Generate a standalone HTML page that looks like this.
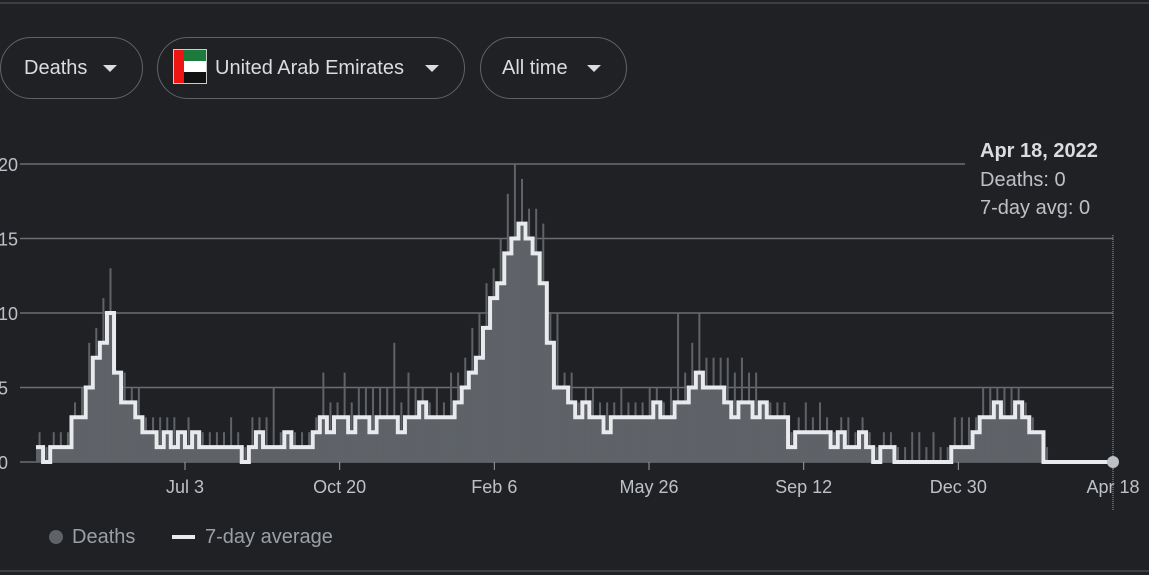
<!DOCTYPE html>
<html><head><meta charset="utf-8"><style>
body{margin:0;width:1149px;height:575px;background:#202124;overflow:hidden;font-family:"Liberation Sans",Arial,sans-serif;position:relative}
.pill{position:absolute;top:37px;height:62px;border:1px solid #5f6368;border-radius:31px;box-sizing:border-box;color:#dadce0;font-size:20px;line-height:60px}
.pill .arr{position:absolute;top:27px;width:0;height:0;border-left:7px solid transparent;border-right:7px solid transparent;border-top:7px solid #dadce0}
</style></head><body>
<div style="position:absolute;left:0;top:2px;width:1149px;height:2px;background:#3c4043"></div>
<div class="pill" style="left:0;width:143px"><span style="position:absolute;left:23px">Deaths</span><span class="arr" style="left:102px"></span></div>
<div class="pill" style="left:157px;width:308px">
<div style="position:absolute;left:15px;top:11px;width:34px;height:35px;background:#fff;border:1px solid #ccc;box-sizing:border-box">
<div style="position:absolute;left:0;top:0;width:10px;height:33px;background:#f01515"></div>
<div style="position:absolute;left:10px;top:0;width:22px;height:11px;background:#1c7a3c"></div>
<div style="position:absolute;left:10px;top:22px;width:22px;height:11px;background:#111"></div></div>
<span style="position:absolute;left:57px">United Arab Emirates</span><span class="arr" style="left:267px"></span></div>
<div class="pill" style="left:480px;width:147px"><span style="position:absolute;left:21px">All time</span><span class="arr" style="left:106px"></span></div>
<svg id="chart" width="1149" height="575" style="position:absolute;left:0;top:0"></svg>
<div style="position:absolute;left:0;top:526px;font-size:20px;color:#9aa0a6">
<span style="position:absolute;left:49px;top:4px;width:14px;height:14px;border-radius:7px;background:#5f6368"></span>
<span style="position:absolute;left:72px;top:0;white-space:nowrap">Deaths</span>
<span style="position:absolute;left:172px;top:9px;width:23px;height:4px;background:#e8eaed"></span>
<span style="position:absolute;left:205px;top:0;white-space:nowrap">7-day average</span></div>
<div style="position:absolute;left:0;top:570px;width:1149px;height:2px;background:#3c4043"></div>
<script>
const binDays = 5;
const totalDays = 759;
const avgValues = [1,0,1,1,1,3,3,5,7,8,10,6,4,4,3,2,2,1,2,1,2,1,2,1,1,1,1,1,1,0,1,2,1,1,1,2,1,1,1,2,3,2,3,3,2,3,3,2,3,3,3,2,3,3,4,3,3,3,3,4,5,6,7,9,11,12,14,15,16,15,14,12,8,5,5,4,3,4,3,3,2,3,3,3,3,3,3,4,3,3,4,4,5,6,5,5,5,4,3,4,4,3,4,3,3,3,1,2,2,2,2,2,1,2,1,1,2,1,0,1,1,0,0,0,0,0,0,0,0,1,1,1,2,3,3,4,3,3,4,3,2,2,0,0,0,0,0,0,0,0,0,0];
const peakDeaths = [2,1,2,2,2,4,5,8,9,11,13,6,6,5,5,3,3,3,3,3,2,3,2,2,2,2,2,3,2,1,3,3,3,5,2,2,2,2,2,3,6,4,4,6,4,5,5,5,5,5,8,4,6,5,5,4,5,4,6,6,7,9,10,12,13,15,18,20,19,17,17,16,10,10,6,6,4,5,5,4,4,4,5,4,4,4,5,5,4,5,10,6,8,10,7,7,7,7,6,7,6,6,4,4,4,4,2,3,4,3,4,3,2,3,3,2,3,2,1,2,2,1,1,2,2,1,2,1,1,3,3,3,3,5,5,5,5,5,5,4,3,2,1,0,0,0,0,0,0,0,0,0];
const yTicks = [0,5,10,15,20];
const xTickLabels = ["Jul 3","Oct 20","Feb 6","May 26","Sep 12","Dec 30","Apr 18"];
const xTickDays = [105,214,323,432,541,650,759];

const NS="http://www.w3.org/2000/svg";
const svg=document.getElementById('chart');
const x0=36,x1=1113,yBase=462,yTop=164;
const xs=d=>x0+(x1-x0)*d/totalDays;
const ys=v=>yBase-(yBase-yTop)*v/20;
function mk(t,a){const e=document.createElementNS(NS,t);for(const k in a)e.setAttribute(k,a[k]);svg.appendChild(e);return e;}
yTicks.forEach(v=>{
  const l=mk('line',{x1:20,x2:v===20?965:x1,y1:ys(v),y2:ys(v),stroke:'#6b6e72','stroke-width':1.5});
  
  
  const t=mk('text',{x:-2,y:ys(v)+7,fill:'#bdc1c6','font-size':18});
  t.textContent=v;
  
  
});
for(let i=0;i<avgValues.length;i++){
  const d0=i*binDays,d1=Math.min(totalDays,(i+1)*binDays);
  if(d0>=totalDays)break;
  const r=mk('rect',{x:xs(d0),y:ys(avgValues[i]),width:xs(d1)-xs(d0)+0.3,height:yBase-ys(avgValues[i]),fill:'#5f6368'});
  
  
  if(peakDeaths[i]>avgValues[i]){
    const s=mk('rect',{x:xs(d0+binDays/2)-1,y:ys(peakDeaths[i]),width:2,height:yBase-ys(peakDeaths[i]),fill:'#5f6368'});
    
    
  }
}
let p='';
for(let i=0;i<avgValues.length;i++){
  const d0=i*binDays,d1=Math.min(totalDays,(i+1)*binDays);
  if(d0>=totalDays)break;
  p+=(i?'L':'M')+xs(d0)+','+ys(avgValues[i])+'L'+xs(d1)+','+ys(avgValues[i]);
}
const ln=mk('path',{d:p,fill:'none',stroke:'#e8eaed','stroke-width':4,'stroke-linejoin':'miter'});


xTickDays.forEach((d,i)=>{
  const tk=mk('line',{x1:xs(d),x2:xs(d),y1:yBase,y2:yBase+8,stroke:'#9aa0a6','stroke-width':1});
  
  
  const t=mk('text',{x:xs(d),y:493,fill:'#bdc1c6','font-size':18,'text-anchor':'middle'});
  t.textContent=xTickLabels[i];
  
  
});
const hl=mk('line',{x1:x1,x2:x1,y1:235,y2:510,stroke:'#9aa0a6','stroke-width':1,'stroke-dasharray':'1,1'});


const dot=mk('circle',{cx:x1,cy:ys(0),r:6,fill:'#bdc1c6'});


const tt=[["Apr 18, 2022",157,'bold','#dadce0'],["Deaths: 0",186,'normal','#bdc1c6'],["7-day avg: 0",214,'normal','#bdc1c6']];
tt.forEach((r,i)=>{
  const t=mk('text',{x:980,y:r[1],fill:r[3],'font-size':20,'font-weight':r[2]});
  t.textContent=r[0];
  
  
});
</script>
</body></html>
